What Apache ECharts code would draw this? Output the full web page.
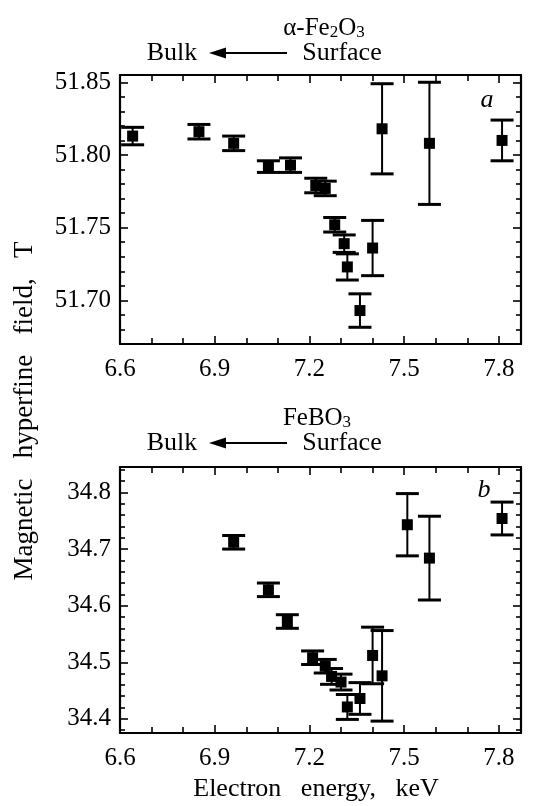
<!DOCTYPE html>
<html><head><meta charset="utf-8">
<script src="https://cdn.jsdelivr.net/npm/echarts@6/dist/echarts.min.js"></script>
<style>html,body{margin:0;padding:0;background:#fff}#c{width:533px;height:806px}</style>
</head><body><div id="c"></div>
<script>
// ---- Panel a: alpha-Fe2O3 ----
const energyA = [6.64, 6.85, 6.96, 7.07, 7.14, 7.22, 7.25, 7.28, 7.31, 7.32, 7.40, 7.36, 7.43, 7.58, 7.81];
const fieldA  = [51.813, 51.816, 51.808, 51.792, 51.793, 51.779, 51.777, 51.752, 51.739, 51.723, 51.736, 51.693, 51.818, 51.808, 51.810];
const errA    = [0.006, 0.005, 0.005, 0.004, 0.005, 0.005, 0.005, 0.005, 0.006, 0.009, 0.019, 0.0115, 0.031, 0.042, 0.014];
// ---- Panel b: FeBO3 ----
const energyB = [6.96, 7.07, 7.13, 7.21, 7.25, 7.27, 7.30, 7.32, 7.36, 7.40, 7.43, 7.51, 7.58, 7.81];
const fieldB  = [34.712, 34.628, 34.572, 34.508, 34.493, 34.475, 34.465, 34.421, 34.436, 34.512, 34.476, 34.743, 34.684, 34.754];
const errB    = [0.012, 0.012, 0.012, 0.012, 0.012, 0.014, 0.014, 0.022, 0.028, 0.050, 0.080, 0.055, 0.074, 0.029];
// ---- Axes / ticks ----
const xRange = [6.6, 7.87];
const xMajorTicks = [6.6, 6.9, 7.2, 7.5, 7.8];
const xMinorTicks = [6.7, 6.8, 7.0, 7.1, 7.3, 7.4, 7.6, 7.7];
const yRangeA = [51.67, 51.855];
const yMajorTicksA = [51.70, 51.75, 51.80, 51.85];
const yMinorTicksA = [51.68, 51.69, 51.71, 51.72, 51.73, 51.74, 51.76, 51.77, 51.78, 51.79, 51.81, 51.82, 51.83, 51.84];
const yRangeB = [34.375, 34.845];
const yMajorTicksB = [34.4, 34.5, 34.6, 34.7, 34.8];
const yMinorTicksB = [34.38, 34.42, 34.44, 34.46, 34.48, 34.52, 34.54, 34.56, 34.58, 34.62, 34.64, 34.66, 34.68, 34.72, 34.74, 34.76, 34.78, 34.82, 34.84];

const FONT = '"Liberation Serif", "DejaVu Serif", serif';
const chart = echarts.init(document.getElementById('c'), null, {renderer: 'canvas'});

function mkAxis(grid, pos, range, ticks, len, line, labelVals, fmt) {
  return {
    type: 'value', gridIndex: grid, position: pos, min: range[0], max: range[1],
    axisLine: {show: line, onZero: false, lineStyle: {color: '#000', width: 2.2}},
    axisTick: {show: true, inside: true, length: len, customValues: ticks, lineStyle: {color: '#000', width: 1.6}},
    axisLabel: labelVals ? {show: true, customValues: labelVals, formatter: fmt, color: '#000',
      fontFamily: FONT, fontSize: 25, margin: pos === 'bottom' ? 13 : 9} : {show: false},
    splitLine: {show: false}
  };
}
const xAxes = [], yAxes = [];
[0, 1].forEach(g => {
  xAxes.push(mkAxis(g, 'bottom', xRange, xMajorTicks, 8, true, xMajorTicks, v => v.toFixed(1)));
  xAxes.push(mkAxis(g, 'bottom', xRange, xMinorTicks, 6, false, null));
  xAxes.push(mkAxis(g, 'top', xRange, xMajorTicks, 8, true, null));
  xAxes.push(mkAxis(g, 'top', xRange, xMinorTicks, 6, false, null));
});
yAxes.push(mkAxis(0, 'left', yRangeA, yMajorTicksA, 8, true, yMajorTicksA, v => v.toFixed(2)));
yAxes.push(mkAxis(0, 'left', yRangeA, yMinorTicksA, 5, false, null));
yAxes.push(mkAxis(0, 'right', yRangeA, yMajorTicksA, 8, true, null));
yAxes.push(mkAxis(0, 'right', yRangeA, yMinorTicksA, 5, false, null));
yAxes.push(mkAxis(1, 'left', yRangeB, yMajorTicksB, 8, true, yMajorTicksB, v => v.toFixed(1)));
yAxes.push(mkAxis(1, 'left', yRangeB, yMinorTicksB, 5, false, null));
yAxes.push(mkAxis(1, 'right', yRangeB, yMajorTicksB, 8, true, null));
yAxes.push(mkAxis(1, 'right', yRangeB, yMinorTicksB, 5, false, null));

function errSeries(xi, yi, xs, ys, es) {
  return {
    type: 'custom', xAxisIndex: xi, yAxisIndex: yi, clip: false,
    data: xs.map((x, i) => [x, ys[i], es[i]]),
    encode: {x: 0, y: 1},
    renderItem: (params, api) => {
      const x = api.value(0), y = api.value(1), e = api.value(2);
      const t = api.coord([x, y + e]), b = api.coord([x, y - e]);
      const hw = 11.5;
      const st = {stroke: '#000', lineWidth: 2};
      const cs = {stroke: '#000', lineWidth: 3};
      return {type: 'group', children: [
        {type: 'line', shape: {x1: t[0], y1: t[1], x2: b[0], y2: b[1]}, style: st},
        {type: 'line', shape: {x1: t[0] - hw, y1: t[1], x2: t[0] + hw, y2: t[1]}, style: cs},
        {type: 'line', shape: {x1: b[0] - hw, y1: b[1], x2: b[0] + hw, y2: b[1]}, style: cs}
      ]};
    }
  };
}
function ptSeries(xi, yi, xs, ys) {
  return {type: 'scatter', xAxisIndex: xi, yAxisIndex: yi, symbol: 'rect', symbolSize: 11,
    itemStyle: {color: '#000', opacity: 1}, emphasis: {disabled: true},
    data: xs.map((x, i) => [x, ys[i]]), z: 5};
}

const tStyle = {fill: '#000', font: '25px ' + FONT, textAlign: 'center', textVerticalAlign: 'middle'};
function header(cy, formulaRich, fx) {
  return [
    {type: 'text', x: fx, y: cy - 27, style: Object.assign({}, tStyle, {text: formulaRich,
      rich: {m: {fontSize: 25, fontFamily: FONT, lineHeight: 30, verticalAlign: 'bottom'},
             s: {fontSize: 17, fontFamily: FONT, lineHeight: 24, verticalAlign: 'bottom'}}})},
    {type: 'text', x: 172, y: cy, style: Object.assign({}, tStyle, {text: 'Bulk', font: '26px ' + FONT})},
    {type: 'line', shape: {x1: 222, y1: cy, x2: 287, y2: cy}, style: {stroke: '#000', lineWidth: 2}},
    {type: 'polygon', shape: {points: [[209, cy], [226, cy - 5.5], [226, cy + 5.5]]}, style: {fill: '#000'}},
    {type: 'text', x: 342, y: cy, style: Object.assign({}, tStyle, {text: 'Surface', font: '26px ' + FONT})}
  ];
}

chart.setOption({
  backgroundColor: '#fff',
  animation: false,
  grid: [
    {left: 120, right: 12, top: 75, height: 269},
    {left: 120, right: 12, top: 467, height: 266}
  ],
  xAxis: xAxes,
  yAxis: yAxes,
  series: [
    errSeries(0, 0, energyA, fieldA, errA),
    ptSeries(0, 0, energyA, fieldA),
    errSeries(4, 4, energyB, fieldB, errB),
    ptSeries(4, 4, energyB, fieldB)
  ],
  graphic: [].concat(
    header(53, '{m|α-Fe}{s|2}{m|O}{s|3}', 324),
    header(443, '{m|FeBO}{s|3}', 317),
    [
      {type: 'text', x: 487, y: 100, style: Object.assign({}, tStyle, {text: 'a', font: 'italic 26px ' + FONT})},
      {type: 'text', x: 484, y: 490, style: Object.assign({}, tStyle, {text: 'b', font: 'italic 26px ' + FONT})},
      {type: 'text', x: 316, y: 789, style: Object.assign({}, tStyle, {text: 'Electron   energy,   keV', font: '26px ' + FONT})},
      {type: 'text', x: 25, y: 411, rotation: Math.PI / 2,
        style: Object.assign({}, tStyle, {text: 'Magnetic   hyperfine   field,   T', font: '27px ' + FONT})}
    ]
  )
});
</script></body></html>
